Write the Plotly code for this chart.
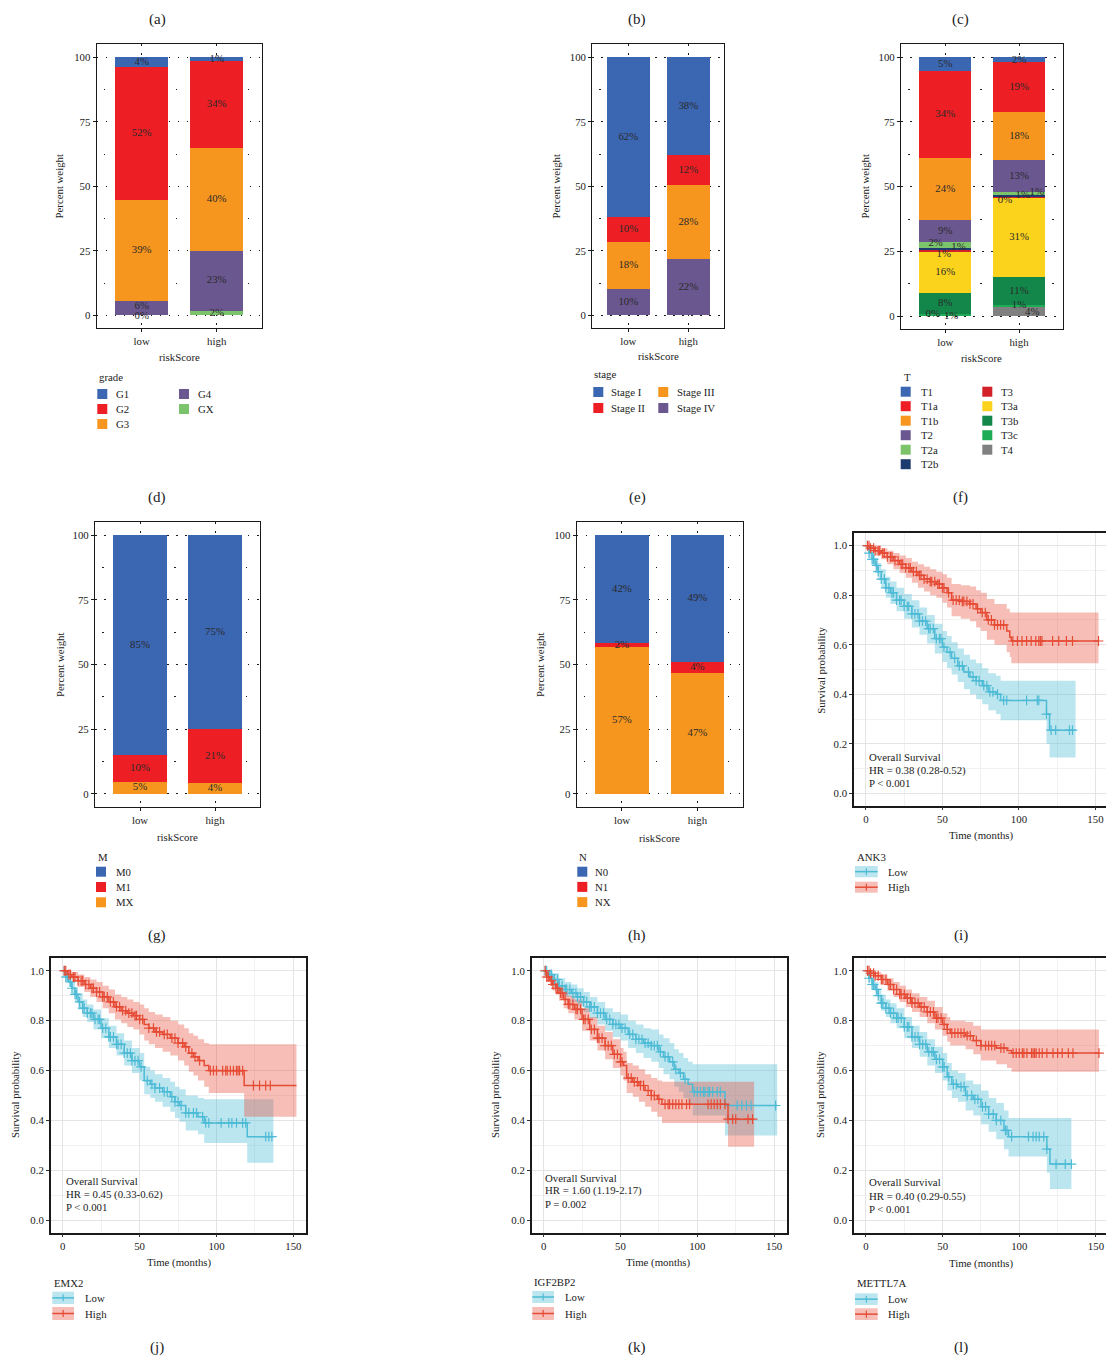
import numpy as np
import plotly.graph_objects as go

# page body has an 8px margin: the figure is sized/offset so that it lands on the reference grid
OFF = 8
W, H = 1106, 1347
FONT = "Liberation Serif"
TXT = "#222222"
FS = 10.8

# ---------------- data: stacked bars (percent) ----------------
risk_groups = ["low", "high"]

grade_levels = ["G1", "G2", "G3", "G4", "GX"]
grade_low = [3.6, 51.6, 39.2, 5.6, 0.0]
grade_high = [1.4, 33.6, 39.9, 23.4, 1.7]

stage_levels = ["Stage I", "Stage II", "Stage III", "Stage IV"]
stage_low = [61.7, 9.8, 18.3, 10.2]
stage_high = [37.9, 11.7, 28.4, 22.0]

t_levels = ["T1", "T1a", "T1b", "T2", "T2a", "T2b", "T3", "T3a", "T3b", "T3c", "T4"]
t_low = [5.3, 33.6, 24.0, 8.6, 2.3, 0.8, 0.8, 15.6, 8.2, 0.6, 0.2]
t_high = [2.0, 19.2, 18.4, 12.6, 1.2, 0.6, 0.4, 30.6, 10.6, 0.8, 3.6]

m_levels = ["M0", "M1", "MX"]
m_low = [85.1, 10.2, 4.7]
m_high = [75.1, 20.9, 4.0]

n_levels = ["N0", "N1", "NX"]
n_low = [41.6, 1.8, 56.6]
n_high = [49.0, 4.4, 46.6]

# ---------------- data: Kaplan-Meier curves ----------------
ank3_high_t = [0, 3, 6, 10, 14, 18, 22, 26, 30, 34, 38, 42, 46, 50, 53, 56, 62, 68, 72, 75, 79, 84, 92, 94, 95, 152]
ank3_high_s = [1.0, 0.99, 0.98, 0.97, 0.955, 0.94, 0.925, 0.91, 0.895, 0.88, 0.865, 0.855, 0.845, 0.83, 0.81, 0.78, 0.775, 0.765, 0.745, 0.73, 0.70, 0.68, 0.655, 0.63, 0.615, 0.615]
ank3_high_lo = [1.0, 0.975, 0.96, 0.945, 0.925, 0.905, 0.89, 0.87, 0.85, 0.83, 0.815, 0.8, 0.79, 0.77, 0.75, 0.715, 0.705, 0.695, 0.67, 0.655, 0.62, 0.60, 0.57, 0.55, 0.525, 0.525]
ank3_high_hi = [1.0, 1.0, 1.0, 0.99, 0.98, 0.97, 0.96, 0.95, 0.935, 0.925, 0.915, 0.905, 0.895, 0.885, 0.87, 0.845, 0.84, 0.835, 0.82, 0.81, 0.785, 0.765, 0.745, 0.73, 0.73, 0.73]
ank3_high_cens = [1, 2, 3, 5, 6, 8, 9, 11, 12, 14, 16, 17, 19, 21, 23, 24, 26, 28, 29, 31, 33, 35, 36, 38, 40, 42, 43, 45, 47, 48, 50, 51, 54, 57, 59, 61, 63, 64, 66, 68, 70, 73, 76, 78, 80, 82, 84, 86, 88, 90, 96, 99, 102, 105, 108, 111, 113, 114, 115, 122, 126, 131, 135, 152]

ank3_low_t = [0, 2, 4, 6, 8, 10, 13, 16, 20, 25, 30, 35, 40, 45, 50, 53, 56, 60, 64, 68, 72, 76, 80, 85, 88, 118, 120, 137]
ank3_low_s = [1.0, 0.97, 0.945, 0.92, 0.895, 0.865, 0.83, 0.81, 0.78, 0.755, 0.725, 0.695, 0.665, 0.625, 0.59, 0.57, 0.545, 0.515, 0.49, 0.47, 0.455, 0.435, 0.41, 0.40, 0.375, 0.32, 0.255, 0.255]
ank3_low_lo = [1.0, 0.95, 0.92, 0.89, 0.86, 0.83, 0.79, 0.765, 0.735, 0.705, 0.67, 0.64, 0.605, 0.565, 0.53, 0.505, 0.48, 0.45, 0.42, 0.40, 0.38, 0.36, 0.335, 0.32, 0.295, 0.20, 0.145, 0.145]
ank3_low_hi = [1.0, 0.99, 0.97, 0.95, 0.93, 0.905, 0.875, 0.855, 0.83, 0.805, 0.78, 0.75, 0.72, 0.685, 0.655, 0.635, 0.61, 0.585, 0.56, 0.54, 0.525, 0.505, 0.485, 0.475, 0.455, 0.455, 0.455, 0.455]
ank3_low_cens = [1, 2, 4, 5, 7, 8, 10, 12, 13, 15, 17, 18, 20, 22, 23, 25, 27, 28, 30, 32, 34, 35, 37, 39, 41, 42, 44, 46, 48, 49, 51, 55, 58, 61, 63, 67, 70, 72, 74, 77, 79, 81, 83, 86, 90, 92, 105, 112, 113, 118, 121, 124, 133, 135]

emx2_high_t = [0, 3, 6, 10, 14, 18, 22, 26, 30, 34, 38, 42, 46, 50, 53, 56, 60, 65, 70, 75, 79, 82, 85, 88, 92, 95, 118, 152]
emx2_high_s = [1.0, 0.985, 0.975, 0.96, 0.945, 0.93, 0.915, 0.895, 0.875, 0.855, 0.84, 0.83, 0.82, 0.805, 0.785, 0.77, 0.755, 0.745, 0.73, 0.71, 0.695, 0.67, 0.655, 0.64, 0.62, 0.60, 0.54, 0.54]
emx2_high_lo = [1.0, 0.97, 0.955, 0.935, 0.915, 0.895, 0.875, 0.85, 0.83, 0.805, 0.79, 0.775, 0.765, 0.745, 0.72, 0.705, 0.69, 0.675, 0.66, 0.64, 0.62, 0.595, 0.58, 0.56, 0.535, 0.51, 0.415, 0.415]
emx2_high_hi = [1.0, 1.0, 0.995, 0.985, 0.975, 0.965, 0.955, 0.94, 0.925, 0.905, 0.895, 0.885, 0.875, 0.865, 0.85, 0.835, 0.825, 0.815, 0.80, 0.785, 0.77, 0.75, 0.74, 0.725, 0.71, 0.705, 0.705, 0.705]
emx2_high_cens = [1, 2, 4, 5, 7, 8, 10, 12, 13, 15, 17, 19, 20, 22, 24, 26, 27, 29, 31, 33, 35, 37, 39, 41, 43, 45, 47, 48, 50, 52, 56, 59, 61, 63, 66, 68, 71, 73, 75, 78, 80, 84, 86, 89, 96, 98, 100, 104, 106, 107, 109, 111, 113, 114, 115, 117, 124, 128, 132, 135]

emx2_low_t = [0, 2, 4, 6, 8, 10, 13, 16, 20, 25, 30, 35, 40, 45, 50, 53, 57, 60, 65, 70, 73, 76, 80, 88, 92, 120, 137]
emx2_low_s = [1.0, 0.975, 0.955, 0.93, 0.905, 0.875, 0.85, 0.83, 0.805, 0.77, 0.735, 0.705, 0.67, 0.64, 0.615, 0.56, 0.545, 0.53, 0.515, 0.495, 0.475, 0.46, 0.43, 0.415, 0.39, 0.335, 0.335]
emx2_low_lo = [1.0, 0.96, 0.935, 0.905, 0.875, 0.845, 0.815, 0.795, 0.765, 0.73, 0.69, 0.66, 0.62, 0.59, 0.56, 0.505, 0.49, 0.475, 0.455, 0.435, 0.41, 0.395, 0.36, 0.345, 0.31, 0.23, 0.23]
emx2_low_hi = [1.0, 0.99, 0.975, 0.955, 0.935, 0.91, 0.885, 0.865, 0.845, 0.81, 0.78, 0.75, 0.72, 0.69, 0.67, 0.615, 0.60, 0.585, 0.57, 0.555, 0.535, 0.525, 0.50, 0.49, 0.485, 0.485, 0.485]
emx2_low_cens = [1, 2, 3, 5, 6, 8, 9, 11, 13, 14, 16, 18, 19, 21, 23, 24, 26, 28, 30, 31, 33, 35, 36, 38, 40, 42, 44, 45, 47, 49, 51, 55, 58, 60, 63, 66, 68, 71, 73, 75, 77, 80, 82, 85, 87, 91, 93, 95, 103, 108, 110, 113, 117, 119, 132, 134, 136]

igf2bp2_low_t = [0, 3, 6, 10, 14, 18, 22, 26, 30, 35, 40, 45, 50, 55, 60, 65, 70, 75, 78, 82, 85, 88, 91, 94, 97, 118, 152]
igf2bp2_low_s = [1.0, 0.985, 0.965, 0.94, 0.925, 0.91, 0.895, 0.875, 0.855, 0.83, 0.805, 0.785, 0.77, 0.745, 0.725, 0.71, 0.70, 0.675, 0.655, 0.635, 0.605, 0.59, 0.565, 0.545, 0.515, 0.46, 0.46]
igf2bp2_low_lo = [1.0, 0.97, 0.945, 0.915, 0.895, 0.875, 0.86, 0.835, 0.81, 0.785, 0.76, 0.735, 0.72, 0.69, 0.67, 0.65, 0.635, 0.61, 0.585, 0.565, 0.535, 0.515, 0.49, 0.465, 0.42, 0.34, 0.34]
igf2bp2_low_hi = [1.0, 1.0, 0.99, 0.97, 0.955, 0.945, 0.93, 0.915, 0.895, 0.875, 0.85, 0.835, 0.825, 0.80, 0.785, 0.77, 0.765, 0.745, 0.73, 0.71, 0.685, 0.67, 0.65, 0.635, 0.625, 0.625, 0.625]
igf2bp2_low_cens = [1, 2, 4, 5, 7, 9, 10, 12, 14, 15, 17, 19, 21, 22, 24, 26, 28, 30, 31, 33, 35, 37, 39, 41, 43, 45, 47, 49, 51, 53, 56, 58, 60, 62, 64, 66, 68, 70, 72, 74, 76, 79, 81, 84, 86, 89, 92, 98, 100, 102, 104, 105, 107, 108, 110, 113, 115, 126, 129, 132, 135, 151]

igf2bp2_high_t = [0, 2, 4, 6, 8, 10, 13, 16, 20, 25, 30, 35, 40, 45, 50, 52, 54, 58, 62, 66, 70, 74, 77, 120, 137]
igf2bp2_high_s = [1.0, 0.975, 0.96, 0.945, 0.93, 0.91, 0.885, 0.865, 0.845, 0.805, 0.765, 0.73, 0.70, 0.665, 0.635, 0.62, 0.57, 0.555, 0.54, 0.52, 0.50, 0.485, 0.465, 0.405, 0.405]
igf2bp2_high_lo = [1.0, 0.96, 0.94, 0.92, 0.905, 0.88, 0.85, 0.83, 0.805, 0.76, 0.72, 0.68, 0.645, 0.61, 0.58, 0.56, 0.51, 0.495, 0.475, 0.455, 0.435, 0.415, 0.39, 0.295, 0.295]
igf2bp2_high_hi = [1.0, 0.99, 0.98, 0.97, 0.955, 0.94, 0.92, 0.90, 0.885, 0.85, 0.815, 0.78, 0.755, 0.725, 0.69, 0.675, 0.63, 0.62, 0.605, 0.585, 0.57, 0.56, 0.555, 0.555, 0.555]
igf2bp2_high_cens = [1, 2, 3, 5, 6, 8, 9, 11, 12, 14, 16, 17, 19, 21, 22, 24, 26, 27, 29, 31, 33, 35, 36, 38, 40, 42, 44, 46, 48, 50, 51, 55, 57, 59, 61, 63, 65, 68, 70, 72, 75, 79, 81, 82, 84, 86, 88, 90, 93, 95, 107, 109, 111, 113, 115, 118, 120, 123, 125, 133, 136]

mettl7a_high_t = [0, 3, 6, 10, 14, 18, 22, 26, 30, 35, 40, 45, 50, 53, 55, 65, 70, 75, 85, 92, 95, 152]
mettl7a_high_s = [1.0, 0.99, 0.98, 0.965, 0.945, 0.925, 0.905, 0.89, 0.87, 0.855, 0.835, 0.81, 0.785, 0.765, 0.75, 0.74, 0.72, 0.70, 0.69, 0.68, 0.67, 0.67]
mettl7a_high_lo = [1.0, 0.98, 0.965, 0.945, 0.92, 0.895, 0.875, 0.855, 0.835, 0.815, 0.79, 0.765, 0.74, 0.715, 0.70, 0.685, 0.665, 0.64, 0.625, 0.61, 0.595, 0.595]
mettl7a_high_hi = [1.0, 1.0, 0.995, 0.985, 0.97, 0.955, 0.94, 0.925, 0.91, 0.895, 0.88, 0.855, 0.83, 0.815, 0.80, 0.795, 0.78, 0.765, 0.765, 0.765, 0.765, 0.765]
mettl7a_high_cens = [1, 2, 3, 5, 6, 8, 10, 11, 13, 15, 16, 18, 20, 22, 23, 25, 27, 29, 30, 32, 34, 36, 38, 40, 42, 44, 46, 47, 49, 51, 53, 56, 58, 60, 62, 64, 66, 68, 72, 75, 78, 80, 82, 84, 88, 90, 96, 98, 100, 102, 103, 105, 108, 109, 110, 111, 113, 115, 118, 122, 125, 128, 132, 135, 152]

mettl7a_low_t = [0, 2, 4, 6, 8, 10, 13, 16, 20, 25, 30, 35, 40, 45, 50, 53, 56, 60, 65, 70, 75, 80, 85, 90, 93, 118, 120, 134]
mettl7a_low_s = [1.0, 0.97, 0.945, 0.925, 0.90, 0.87, 0.85, 0.83, 0.81, 0.775, 0.735, 0.705, 0.675, 0.645, 0.615, 0.575, 0.545, 0.535, 0.50, 0.485, 0.455, 0.425, 0.40, 0.36, 0.335, 0.285, 0.225, 0.225]
mettl7a_low_lo = [1.0, 0.955, 0.925, 0.90, 0.87, 0.84, 0.815, 0.79, 0.77, 0.73, 0.69, 0.655, 0.62, 0.59, 0.56, 0.52, 0.49, 0.475, 0.44, 0.42, 0.385, 0.355, 0.325, 0.285, 0.255, 0.19, 0.125, 0.125]
mettl7a_low_hi = [1.0, 0.99, 0.97, 0.955, 0.93, 0.905, 0.885, 0.87, 0.85, 0.815, 0.78, 0.755, 0.725, 0.695, 0.67, 0.63, 0.60, 0.59, 0.56, 0.545, 0.52, 0.49, 0.47, 0.44, 0.41, 0.41, 0.41, 0.41]
mettl7a_low_cens = [1, 2, 4, 5, 7, 8, 10, 11, 13, 15, 16, 18, 20, 21, 23, 25, 27, 28, 30, 32, 34, 35, 37, 39, 41, 43, 44, 46, 48, 50, 51, 54, 57, 59, 62, 64, 66, 69, 71, 73, 76, 78, 80, 83, 85, 88, 91, 92, 95, 106, 109, 111, 113, 116, 118, 124, 130, 134]

km_genes = ["ANK3", "EMX2", "IGF2BP2", "METTL7A"]
km_stats = [
    ["Overall Survival", "HR = 0.38 (0.28-0.52)", "P < 0.001"],
    ["Overall Survival", "HR = 0.45 (0.33-0.62)", "P < 0.001"],
    ["Overall Survival", "HR = 1.60 (1.19-2.17)", "P = 0.002"],
    ["Overall Survival", "HR = 0.40 (0.29-0.55)", "P < 0.001"],
]
km_groups = ["Low", "High"]

# ---------------- styling ----------------
BLUE, RED, ORANGE, PURPLE, LGREEN = "#3B66B1", "#ED1F24", "#F7961F", "#6B578F", "#7CC46C"
grade_colors = [BLUE, RED, ORANGE, PURPLE, LGREEN]
stage_colors = [BLUE, RED, ORANGE, PURPLE]
t_colors = [BLUE, RED, ORANGE, PURPLE, LGREEN, "#1D3B6E", "#D42028", "#FBD31C", "#13874A", "#1EAD56", "#808080"]
m_colors = [BLUE, RED, ORANGE]
n_colors = [BLUE, RED, ORANGE]
KM_LOW, KM_HIGH = "#4DBBD5", "#E64B35"
KM_LOW_FILL, KM_HIGH_FILL = "rgba(77,187,213,0.38)", "rgba(230,75,53,0.36)"

fig = go.Figure()
annotations, shapes = [], []
layout = dict(width=W, height=H, margin=dict(l=0, r=0, t=0, b=0), autosize=False,
              paper_bgcolor="white", plot_bgcolor="white", barmode="stack", showlegend=False,
              font=dict(family=FONT, size=FS, color=TXT))


def P(x, y):
    return (x - OFF) / W, 1 - (y - OFF) / H


def names(i):
    s = "" if i == 1 else str(i)
    return "x" + s, "y" + s, "xaxis" + s, "yaxis" + s


def ann(text, x, y, size=FS, xanchor="center", yanchor="middle", angle=0):
    px, py = P(x, y)
    annotations.append(dict(text=text, x=px, y=py, xref="paper", yref="paper", showarrow=False,
                            xanchor=xanchor, yanchor=yanchor, textangle=angle,
                            font=dict(family=FONT, size=size, color=TXT)))


def rect(x0, y0, x1, y1, fill):
    a0, b0 = P(x0, y0)
    a1, b1 = P(x1, y1)
    shapes.append(dict(type="rect", xref="paper", yref="paper", x0=a0, x1=a1, y0=b1, y1=b0,
                       fillcolor=fill, line=dict(width=0), layer="above"))


def seg(x0, y0, x1, y1, color, width):
    a0, b0 = P(x0, y0)
    a1, b1 = P(x1, y1)
    shapes.append(dict(type="line", xref="paper", yref="paper", x0=a0, x1=a1, y0=b0, y1=b1,
                       line=dict(color=color, width=width), layer="above"))


def dom_x(a, b):
    return [P(a, 0)[0], P(b, 0)[0]]


def dom_y(top, bottom):
    return [P(0, bottom)[1], P(0, top)[1]]


# ---------------- stacked bar panels ----------------
bar_panels = [
    dict(i=1, title="grade", levels=grade_levels, low=grade_low, high=grade_high, colors=grade_colors,
         xd=(96.7, 261.7), yd=(44.3, 328.3), ylab=(59, 186.5), xlab=(179.3, 356.7),
         leg=dict(title=(96.7, 377), cols=[(97.3, 114), (179, 196)], y0=394, dy=15, per=3),
         offs={(0, "G4"): (0, 0.6), (0, "GX"): (0, -0.5)}),
    dict(i=2, title="stage", levels=stage_levels, low=stage_low, high=stage_high, colors=stage_colors,
         xd=(592.3, 724.3), yd=(44.3, 328.3), ylab=(556, 186.5), xlab=(658.3, 355.7),
         leg=dict(title=(592.3, 373.5), cols=[(593.3, 609), (658.3, 675)], y0=392, dy=16, per=2),
         offs={}),
    dict(i=3, title="T", levels=t_levels, low=t_low, high=t_high, colors=t_colors,
         xd=(901, 1063.3), yd=(44.3, 329), ylab=(865, 186.5), xlab=(981.7, 358.3),
         leg=dict(title=(901.7, 377), cols=[(900.7, 919), (982.3, 999.3)], y0=391.7, dy=14.5, per=6),
         offs={(0, "T2a"): (-0.13, 0.9), (0, "T2b"): (0.18, 0.8), (0, "T3"): (-0.02, -1.2),
               (0, "T4"): (-0.17, 0.5), (0, "T3c"): (0.08, -0.4),
               (1, "T4"): (0.18, -0.3), (1, "T3"): (-0.19, -1.0), (1, "T2b"): (0.05, 0.5),
               (1, "T2a"): (0.24, 0.5)}),
    dict(i=4, title="M", levels=m_levels, low=m_low, high=m_high, colors=m_colors,
         xd=(95, 260), yd=(522.3, 806.7), ylab=(60, 665), xlab=(177.3, 836.7),
         leg=dict(title=(96, 857), cols=[(96, 114)], y0=871.7, dy=15.3, per=3),
         offs={}),
    dict(i=5, title="N", levels=n_levels, low=n_low, high=n_high, colors=n_colors,
         xd=(576.7, 742.7), yd=(522.3, 806.7), ylab=(540, 665), xlab=(659.3, 838.3),
         leg=dict(title=(576.7, 857.3), cols=[(577.3, 593)], y0=871.7, dy=15.2, per=3),
         offs={}),
]

for p in bar_panels:
    xn, yn, xk, yk = names(p["i"])
    layout[xk] = dict(domain=dom_x(*p["xd"]), anchor=yn, range=[0.4, 2.6], tickmode="array",
                      tickvals=[1, 2], ticktext=risk_groups, showline=True, mirror=True,
                      linecolor="#1a1a1a", linewidth=1.3, ticks="outside", ticklen=3, tickwidth=1,
                      tickcolor="#1a1a1a", showgrid=True, gridcolor="#1a1a1a", gridwidth=1,
                      griddash="1.5px,7.5px", zeroline=False, tickfont=dict(size=FS, color=TXT),
                      fixedrange=True)
    layout[yk] = dict(domain=dom_y(*p["yd"]), anchor=xn, range=[-5, 105], tickmode="array",
                      tickvals=[0, 25, 50, 75, 100], showline=True, mirror=True,
                      linecolor="#1a1a1a", linewidth=1.3, ticks="outside", ticklen=3, tickwidth=1,
                      tickcolor="#1a1a1a", showgrid=True, gridcolor="#1a1a1a", gridwidth=1,
                      griddash="1.5px,7.5px", zeroline=False, tickfont=dict(size=FS, color=TXT),
                      minor=dict(tickmode="array", tickvals=[12.5, 37.5, 62.5, 87.5], showgrid=True,
                                 gridcolor="#1a1a1a", gridwidth=1, griddash="0px,7px,1.5px,63.5px",
                                 ticks=""),
                      fixedrange=True)
    levels, colors = p["levels"], p["colors"]
    vals = [p["low"], p["high"]]
    # stack bottom-up: last level at the bottom
    for k in reversed(range(len(levels))):
        fig.add_trace(go.Bar(x=[1, 2], y=[vals[0][k], vals[1][k]], width=0.71,
                             marker=dict(color=colors[k], line=dict(width=0)),
                             name=levels[k], xaxis=xn, yaxis=yn, hoverinfo="skip"))
    lx, ly, lt = [], [], []
    for g in range(2):
        base = 0.0
        for k in reversed(range(len(levels))):
            v = vals[g][k]
            dx, dy = p["offs"].get((g, levels[k]), (0, 0))
            lx.append(1 + g + dx)
            ly.append(base + v / 2 + dy)
            lt.append(f"{round(v)}%")
            base += v
    fig.add_trace(go.Scatter(x=lx, y=ly, text=lt, mode="text", textposition="middle center",
                             textfont=dict(family=FONT, size=FS, color="#2a2a2a"),
                             xaxis=xn, yaxis=yn, hoverinfo="skip", cliponaxis=False))
    ann("Percent weight", p["ylab"][0], p["ylab"][1], angle=-90)
    ann("riskScore", p["xlab"][0], p["xlab"][1])
    lg = p["leg"]
    ann(p["title"], lg["title"][0], lg["title"][1], xanchor="left")
    for k, lev in enumerate(levels):
        c = k // lg["per"]
        r = k % lg["per"]
        sx, tx = lg["cols"][c]
        cy = lg["y0"] + r * lg["dy"]
        rect(sx, cy - 5, sx + 10, cy + 5, colors[k])
        ann(lev, tx, cy, xanchor="left")

# ---------------- Kaplan-Meier panels ----------------
km_data = [
    (ank3_low_t, ank3_low_s, ank3_low_lo, ank3_low_hi, ank3_low_cens,
     ank3_high_t, ank3_high_s, ank3_high_lo, ank3_high_hi, ank3_high_cens),
    (emx2_low_t, emx2_low_s, emx2_low_lo, emx2_low_hi, emx2_low_cens,
     emx2_high_t, emx2_high_s, emx2_high_lo, emx2_high_hi, emx2_high_cens),
    (igf2bp2_low_t, igf2bp2_low_s, igf2bp2_low_lo, igf2bp2_low_hi, igf2bp2_low_cens,
     igf2bp2_high_t, igf2bp2_high_s, igf2bp2_high_lo, igf2bp2_high_hi, igf2bp2_high_cens),
    (mettl7a_low_t, mettl7a_low_s, mettl7a_low_lo, mettl7a_low_hi, mettl7a_low_cens,
     mettl7a_high_t, mettl7a_high_s, mettl7a_high_lo, mettl7a_high_hi, mettl7a_high_cens),
]

km_panels = [
    dict(i=6, xd=(854, 1108), yd=(533.3, 805.7), ylab=(820.7, 670), xlab=(981, 835),
         txt=(866.7, [756.7, 770, 782.7]), leg_title=(855, 857.3), rx=(855, 877.7),
         rows=[(866, 877.3), (881.7, 892.7)], tx=886),
    dict(i=7, xd=(50.7, 306), yd=(958.3, 1232.7), ylab=(15, 1095), xlab=(179, 1262.3),
         txt=(64, [1180.7, 1194, 1207]), leg_title=(52.3, 1282.7), rx=(52.3, 74),
         rows=[(1291.7, 1304), (1307, 1320)], tx=82.7),
    dict(i=8, xd=(531.7, 786.7), yd=(958.3, 1232.7), ylab=(495, 1095), xlab=(658.3, 1262.3),
         txt=(542.7, [1177.7, 1190.7, 1204]), leg_title=(532.3, 1282.3), rx=(532.3, 554),
         rows=[(1291, 1303), (1307, 1320)], tx=562.7),
    dict(i=9, xd=(854, 1108.5), yd=(958.3, 1232.7), ylab=(820, 1095), xlab=(981, 1263.3),
         txt=(866.7, [1182.3, 1196, 1208.7]), leg_title=(855, 1283.3), rx=(855, 877.7),
         rows=[(1293.3, 1305), (1308.3, 1320)], tx=886),
]


def step_at(ts, ss, tc):
    idx = np.searchsorted(np.asarray(ts, float), np.asarray(tc, float), side="right") - 1
    return np.asarray(ss, float)[idx]


for gi, (p, d) in enumerate(zip(km_panels, km_data)):
    xn, yn, xk, yk = names(p["i"])
    axis_common = dict(showline=True, mirror=True, linecolor="#1a1a1a", linewidth=1.5,
                       ticks="outside", ticklen=3, tickwidth=1, tickcolor="#333333",
                       showgrid=True, gridcolor="#E4E4E4", gridwidth=1.3, zeroline=False,
                       tickfont=dict(size=FS, color=TXT), fixedrange=True)
    layout[xk] = dict(domain=dom_x(*p["xd"]), anchor=yn, range=[-7.8, 158.2], tickmode="array",
                      tickvals=[0, 50, 100, 150],
                      minor=dict(tickmode="array", tickvals=[25, 75, 125], showgrid=True,
                                 gridcolor="#F1F1F1", gridwidth=0.8, ticks=""),
                      **axis_common)
    layout[yk] = dict(domain=dom_y(*p["yd"]), anchor=xn, range=[-0.05, 1.05], tickmode="array",
                      tickvals=[0, 0.2, 0.4, 0.6, 0.8, 1.0],
                      ticktext=["0.0", "0.2", "0.4", "0.6", "0.8", "1.0"],
                      minor=dict(tickmode="array", tickvals=[0.1, 0.3, 0.5, 0.7, 0.9], showgrid=True,
                                 gridcolor="#F1F1F1", gridwidth=0.8, ticks=""),
                      **axis_common)
    groups = [(d[0], d[1], d[2], d[3], d[4], KM_LOW, KM_LOW_FILL),
              (d[5], d[6], d[7], d[8], d[9], KM_HIGH, KM_HIGH_FILL)]
    for t, s, lo, hi, cens, col, fill in groups:
        assert len(t) == len(s) == len(lo) == len(hi)
        fig.add_trace(go.Scatter(x=t, y=lo, mode="lines", line=dict(width=0, shape="hv"),
                                 xaxis=xn, yaxis=yn, hoverinfo="skip"))
        fig.add_trace(go.Scatter(x=t, y=hi, mode="lines", line=dict(width=0, shape="hv"),
                                 fill="tonexty", fillcolor=fill, xaxis=xn, yaxis=yn,
                                 hoverinfo="skip"))
    for t, s, lo, hi, cens, col, fill in groups:
        fig.add_trace(go.Scatter(x=t, y=s, mode="lines", line=dict(color=col, width=1.5, shape="hv"),
                                 xaxis=xn, yaxis=yn, hoverinfo="skip"))
        fig.add_trace(go.Scatter(x=cens, y=step_at(t, s, cens), mode="markers",
                                 marker=dict(symbol="cross-thin", size=7, color=col,
                                             line=dict(color=col, width=1.2)),
                                 xaxis=xn, yaxis=yn, hoverinfo="skip", cliponaxis=False))
    ann("Survival probability", p["ylab"][0], p["ylab"][1], angle=-90)
    ann("Time (months)", p["xlab"][0], p["xlab"][1])
    tx0, tys = p["txt"]
    for line, yy in zip(km_stats[gi], tys):
        ann(line, tx0, yy, xanchor="left")
    ann(km_genes[gi], p["leg_title"][0], p["leg_title"][1], xanchor="left")
    for (y0, y1), name, col, fill in zip(p["rows"], km_groups, [KM_LOW, KM_HIGH],
                                          [KM_LOW_FILL, KM_HIGH_FILL]):
        x0, x1 = p["rx"]
        rect(x0, y0, x1, y1, fill)
        cy = (y0 + y1) / 2
        cx = (x0 + x1) / 2
        seg(x0, cy, x1, cy, col, 1.5)
        seg(cx, cy - 3.5, cx, cy + 3.5, col, 1.2)
        ann(name, p["tx"], cy, xanchor="left")

# ---------------- panel letters ----------------
panel_letters = ["(a)", "(b)", "(c)", "(d)", "(e)", "(f)", "(g)", "(h)", "(i)", "(j)", "(k)", "(l)"]
letter_pos = [(157, 20), (637, 20), (961, 20), (157, 497), (637, 497), (961, 497),
              (157, 935), (637, 935), (961, 935), (157, 1347), (637, 1347), (961, 1347)]
for lab, (x, y) in zip(panel_letters, letter_pos):
    ann(lab, x, y, size=15)

layout["annotations"] = annotations
layout["shapes"] = shapes
fig.update_layout(**layout)
fig.write_html("out.html")
